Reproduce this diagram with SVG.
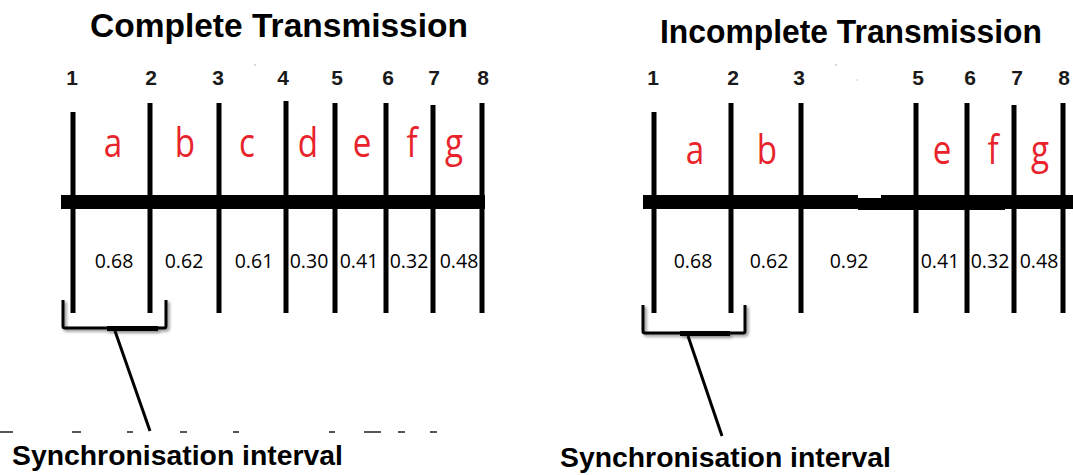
<svg xmlns="http://www.w3.org/2000/svg" width="1073" height="475" viewBox="0 0 1073 475">
  <style>
    .title { font-family: "Liberation Sans", Arial, sans-serif; font-weight: bold; font-size: 33px; fill: #000; }
    .num { font-family: "Liberation Sans", Arial, sans-serif; font-weight: bold; font-size: 21px; fill: #1a1a1a; text-anchor: middle; }
    .tick { stroke: #000; stroke-width: 5; }
    .bar { fill: #000; }
    .seg { font-family: "Open Sans", "Noto Sans", sans-serif; font-size: 40px; fill: #e8232b; text-anchor: middle; }
    .val { font-family: "Open Sans", "Noto Sans", sans-serif; font-size: 19.5px; fill: #000; text-anchor: middle; }
    .brace { fill: none; stroke: #000; stroke-width: 3; stroke-linejoin: round; }
    .lead { stroke: #000; stroke-width: 3; }
    .sync { font-family: "Liberation Sans", Arial, sans-serif; font-weight: bold; font-size: 28px; fill: #000; }
    .frag { fill: #555; }
  </style>
  <defs>
    <filter id="soft" x="-10%" y="-10%" width="130%" height="140%">
      <feDropShadow dx="2" dy="2" stdDeviation="1.5" flood-color="#000" flood-opacity="0.45"/>
    </filter>
  </defs>
  <rect width="1073" height="475" fill="#fff"/>

  <!-- ===== Complete transmission ===== -->
  <g id="title-complete">
    <text class="title" x="90" y="37" textLength="378" lengthAdjust="spacingAndGlyphs">Complete Transmission</text>
  </g>

  <g id="timeline-complete">
    <rect class="bar" x="61" y="195" width="424" height="14"/>
    <line class="tick" x1="73" y1="112" x2="73" y2="313"/>
    <line class="tick" x1="150" y1="103" x2="150" y2="313"/>
    <line class="tick" x1="219" y1="103" x2="219" y2="313"/>
    <line class="tick" x1="286" y1="101" x2="286" y2="313"/>
    <line class="tick" x1="335" y1="103" x2="335" y2="313"/>
    <line class="tick" x1="386" y1="103" x2="386" y2="313"/>
    <line class="tick" x1="433" y1="105" x2="433" y2="313"/>
    <line class="tick" x1="482" y1="103" x2="482" y2="313"/>
    <text class="num" x="72" y="85">1</text>
    <text class="num" x="151" y="85">2</text>
    <text class="num" x="218" y="85">3</text>
    <text class="num" x="283" y="85">4</text>
    <text class="num" x="337" y="85">5</text>
    <text class="num" x="388" y="85">6</text>
    <text class="num" x="434" y="85">7</text>
    <text class="num" x="483" y="85">8</text>
    <circle cx="255" cy="65" r="1" fill="#ccc"/>
  </g>

  <g id="intervals-complete">
    <text class="seg" transform="translate(113,157) scale(0.83,1)">a</text>
    <text class="seg" transform="translate(185,157) scale(0.83,1)">b</text>
    <text class="seg" transform="translate(247,157) scale(0.83,1)">c</text>
    <text class="seg" transform="translate(308,157) scale(0.83,1)">d</text>
    <text class="seg" transform="translate(362,157) scale(0.83,1)">e</text>
    <text class="seg" transform="translate(412,157) scale(0.83,1)">f</text>
    <text class="seg" transform="translate(454,157) scale(0.83,1)">g</text>
    <text class="val" x="114" y="268">0.68</text>
    <text class="val" x="184" y="268">0.62</text>
    <text class="val" x="254" y="268">0.61</text>
    <text class="val" x="309" y="268">0.30</text>
    <text class="val" x="359" y="268">0.41</text>
    <text class="val" x="409" y="268">0.32</text>
    <text class="val" x="459" y="268">0.48</text>
  </g>

  <g id="bracket-complete" filter="url(#soft)">
    <path class="brace" d="M63,300 V326 Q63,328 65,328 H164 Q166,328 166,326 V300"/>
    <rect x="107" y="326" width="51" height="5" fill="#000"/>
  </g>

  <g id="label-complete">
    <text class="sync" x="12" y="465" textLength="331" lengthAdjust="spacingAndGlyphs">Synchronisation interval</text>
    <!-- clipped tops of a hidden line of text -->
    <rect class="frag" x="0" y="431" width="13" height="2"/>
    <rect class="frag" x="72" y="431" width="9" height="2"/>
    <rect class="frag" x="127" y="431" width="6" height="2"/>
    <rect class="frag" x="180" y="431" width="7" height="2"/>
    <rect class="frag" x="233" y="431" width="6" height="2"/>
    <rect class="frag" x="329" y="431" width="6" height="2"/>
    <rect class="frag" x="364" y="431" width="17" height="2"/>
    <rect class="frag" x="398" y="431" width="7" height="2"/>
    <rect class="frag" x="430" y="431" width="7" height="2"/>
  </g>

  <!-- ===== Incomplete transmission ===== -->
  <g id="title-incomplete">
    <text class="title" x="660" y="43" font-size="32" textLength="382" lengthAdjust="spacingAndGlyphs">Incomplete Transmission</text>
  </g>

  <g id="timeline-incomplete">
    <rect class="bar" x="643" y="195" width="215" height="14"/>
    <rect class="bar" x="858" y="198" width="23" height="12"/>
    <rect class="bar" x="881" y="195" width="192" height="14"/>
    <rect class="bar" x="881" y="208" width="124" height="2"/>
    <line class="tick" x1="654" y1="112" x2="654" y2="313"/>
    <line class="tick" x1="731" y1="103" x2="731" y2="313"/>
    <line class="tick" x1="801" y1="103" x2="801" y2="313"/>
    <line class="tick" x1="916" y1="103" x2="916" y2="313"/>
    <line class="tick" x1="967" y1="103" x2="967" y2="313"/>
    <line class="tick" x1="1014" y1="105" x2="1014" y2="313"/>
    <line class="tick" x1="1063" y1="103" x2="1063" y2="313"/>
    <text class="num" x="653" y="85">1</text>
    <text class="num" x="733" y="85">2</text>
    <text class="num" x="799" y="85">3</text>
    <text class="num" x="918" y="85">5</text>
    <text class="num" x="970" y="85">6</text>
    <text class="num" x="1017" y="85">7</text>
    <text class="num" x="1064" y="85">8</text>
    <circle cx="836" cy="65" r="1" fill="#ccc"/>
    <circle cx="857" cy="80" r="1" fill="#ddd"/>
  </g>

  <g id="intervals-incomplete">
    <text class="seg" transform="translate(695,164) scale(0.83,1)">a</text>
    <text class="seg" transform="translate(767,164) scale(0.83,1)">b</text>
    <text class="seg" transform="translate(942,164) scale(0.83,1)">e</text>
    <text class="seg" transform="translate(993,164) scale(0.83,1)">f</text>
    <text class="seg" transform="translate(1040,164) scale(0.83,1)">g</text>
    <text class="val" x="693" y="268">0.68</text>
    <text class="val" x="769" y="268">0.62</text>
    <text class="val" x="849" y="268">0.92</text>
    <text class="val" x="940" y="268">0.41</text>
    <text class="val" x="990" y="268">0.32</text>
    <text class="val" x="1039" y="268">0.48</text>
  </g>

  <g id="bracket-incomplete" filter="url(#soft)">
    <path class="brace" d="M643,305 V331 Q643,333 645,333 H743 Q745,333 745,331 V305"/>
    <rect x="680" y="331" width="50" height="5" fill="#000"/>
  </g>

  <g id="label-incomplete">
    <text class="sync" x="560" y="467" textLength="331" lengthAdjust="spacingAndGlyphs">Synchronisation interval</text>
  </g>

  <!-- leader lines from brackets to their labels -->
  <g id="connectors">
    <line class="lead" x1="115" y1="331" x2="150" y2="431"/>
    <line class="lead" x1="688" y1="336" x2="722" y2="436"/>
  </g>
</svg>
